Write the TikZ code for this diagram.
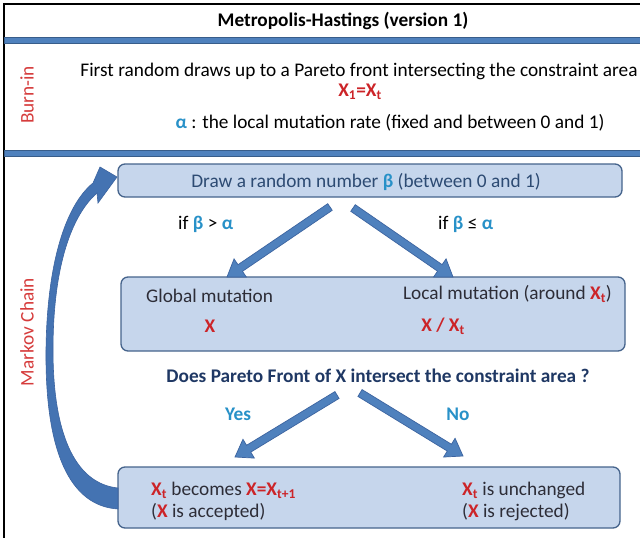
\documentclass[tikz,border=0pt]{standalone}
\usepackage{fontspec}
\setmainfont{Carlito}
\usetikzlibrary{calc}
\definecolor{boxfill}{RGB}{198,214,236}
\definecolor{boxdraw}{RGB}{70,100,140}
\definecolor{barblue}{RGB}{79,129,189}
\definecolor{bardark}{RGB}{56,93,138}
\definecolor{arrowblue}{RGB}{79,129,189}
\definecolor{arrowdark}{RGB}{60,100,160}
\definecolor{curveblue}{RGB}{68,115,178}
\definecolor{mhred}{RGB}{204,36,40}
\definecolor{sidered}{RGB}{214,60,60}
\definecolor{mhblue}{RGB}{40,145,200}
\definecolor{boxtext}{RGB}{45,75,115}
\definecolor{darktext}{RGB}{45,45,55}
\definecolor{navy}{RGB}{31,56,100}
\newcommand\hl[1]{\textcolor{mhblue}{\bfseries #1}}
\newcommand\rd[1]{\textcolor{mhred}{\bfseries #1}}
\newcommand\blockarrow[2]{%
  \filldraw[fill=arrowblue, draw=arrowdark, line width=0.7pt, line join=miter]
    ($(#1)!4pt!90:(#2)$) -- ($($(#2)!16pt!(#1)$)!4pt!90:(#2)$)
    -- ($($(#2)!16pt!(#1)$)!11pt!90:(#2)$) -- (#2)
    -- ($($(#2)!16pt!(#1)$)!11pt!-90:(#2)$)
    -- ($($(#2)!16pt!(#1)$)!4pt!-90:(#2)$) -- ($(#1)!4pt!-90:(#2)$) -- cycle;}
\begin{document}
\begin{tikzpicture}[x=1pt,y=-1pt,
  t/.style={font=\fontsize{19.3}{22}\selectfont, inner sep=0pt},
  box/.style={draw=boxdraw, fill=boxfill, line width=1.3pt, rounded corners=7pt, inner sep=0pt},
  bar/.style={fill=barblue, draw=bardark, line width=0.8pt}]
\useasboundingbox[fill=white] (0,0) rectangle (640,538);
% frame
\draw[line width=1.2pt] (4,545) -- (4,4) -- (650,4);
% bars
\filldraw[bar] (4,37) rectangle (650,43);
\filldraw[bar] (4,150) rectangle (650,156);
% title and burn-in
\node[t, anchor=base] (title) at (343,27) {\bfseries Metropolis-Hastings (version 1)};
\node[t, rotate=90, text=sidered] (burn) at (27,95) {Burn-in};
\node[t, anchor=base] (l1) at (359,76) {First random draws up to a Pareto front intersecting the constraint area};
\node[t, anchor=base] (l2) at (360,96) {\rd{X\textsubscript{1}=X\textsubscript{t}}};
\node[t, anchor=base] (l3) at (390,128) {\hl{α} : the local mutation rate (fixed and between 0 and 1)};
% markov chain
\node[t, rotate=90, text=sidered] (markov) at (27,332) {Markov Chain};
% boxes
\node[box, minimum width=504pt, minimum height=33pt] (b1) at (370,180.5) {};
\node[box, minimum width=504pt, minimum height=74pt] (b2) at (373,314) {};
\node[box, minimum width=502pt, minimum height=61pt] (b3) at (369,497.5) {};
\node[t, anchor=base, text=boxtext] (b1t) at (366,187) {Draw a random number \hl{β} (between 0 and 1)};
% branch labels
\node[t, anchor=base west] (gt) at (178,229) {if \hl{β} > \hl{α}};
\node[t, anchor=base west] (le) at (438,229) {if \hl{β} ≤ \hl{α}};
% box 2 text
\node[t, anchor=base west, text=darktext] (glob) at (146,302) {Global mutation};
\node[t, anchor=base] (globx) at (210,332) {\rd{X}};
\node[t, anchor=base east, text=darktext] (loc) at (612,299) {Local mutation (around \rd{X\textsubscript{t}})};
\node[t, anchor=base] (locx) at (443,331) {\rd{X / X\textsubscript{t}}};
% question
\node[t, anchor=base, text=navy] (q) at (378,382) {\bfseries Does Pareto Front of X intersect the constraint area ?};
\node[t, anchor=base] (yes) at (238,420) {\hl{Yes}};
\node[t, anchor=base] (no) at (458,420) {\hl{No}};
% box 3 text
\node[t, anchor=base west, text=darktext] (acc1) at (151,495) {\rd{X\textsubscript{t}} becomes \rd{X=X\textsubscript{t+1}}};
\node[t, anchor=base west, text=darktext] (acc2) at (151,517) {(\rd{X} is accepted)};
\node[t, anchor=base west, text=darktext] (rej1) at (462,495) {\rd{X\textsubscript{t}} is unchanged};
\node[t, anchor=base west, text=darktext] (rej2) at (462,517) {(\rd{X} is rejected)};
% block arrows
\coordinate (a1s) at (330,207); \coordinate (a1e) at (227,277);
\coordinate (a2s) at (353,208); \coordinate (a2e) at (453,277);
\coordinate (a3s) at (337,395); \coordinate (a3e) at (235,457);
\coordinate (a4s) at (360,393); \coordinate (a4e) at (463,456);
\blockarrow{a1s}{a1e}
\blockarrow{a2s}{a2e}
\blockarrow{a3s}{a3e}
\blockarrow{a4s}{a4e}
% curved arrow
\filldraw[fill=curveblue, draw=arrowdark, line width=0.6pt]
  (118,509) .. controls (70,506) and (45,452) .. (46,350)
  .. controls (47,262) and (66,205) .. (93,183)
  -- (100,167) -- (117,177) -- (98,203) -- (97,193)
  .. controls (72,215) and (53,265) .. (53,350)
  .. controls (53,440) and (78,484) .. (118,488) -- cycle;
\end{tikzpicture}
\end{document}
